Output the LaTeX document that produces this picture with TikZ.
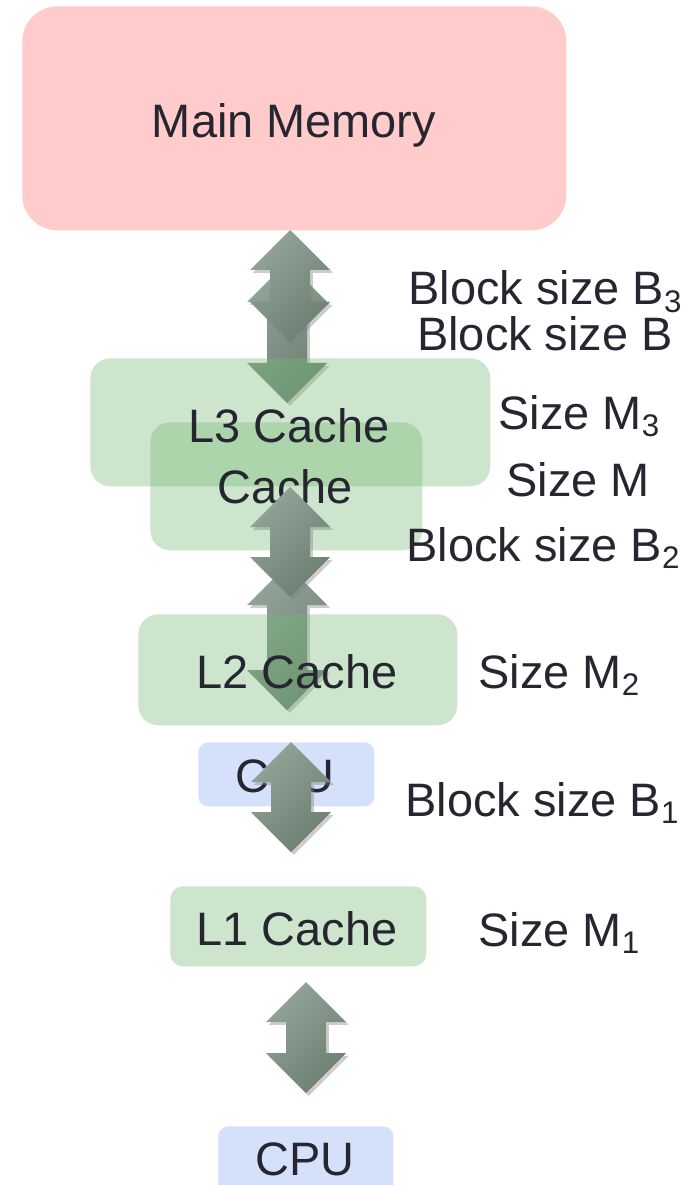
\documentclass[tikz,border=0pt]{standalone}
\usepackage{fontspec}
\setmainfont{Liberation Sans}
\usetikzlibrary{calc,shadows}
\definecolor{rosa}{RGB}{255,203,203}
\definecolor{verde}{RGB}{120,186,120}
\definecolor{azul}{RGB}{213,224,250}
\definecolor{grisclaro}{RGB}{146,164,151}
\definecolor{grisoscuro}{RGB}{108,128,114}
\definecolor{texto}{RGB}{38,38,48}
\tikzset{
  caja/.style={rectangle, anchor=north west, inner sep=0pt, rounded corners=0.4cm},
  cajaverde/.style={caja, fill=verde, fill opacity=0.38},
  etiqueta/.style={anchor=base, inner sep=0pt, text=texto, font=\fontsize{26.7}{30}\selectfont},
  flechadoble/.style={left color=grisclaro, right color=grisoscuro, shading angle=45,
    drop shadow={shadow xshift=1.6pt, shadow yshift=-1.6pt, opacity=0.4}}
}
\newcommand{\lsub}[1]{\raisebox{-0.16em}{\fontsize{17.8}{18}\selectfont #1}}
% flecha doble: nombre, x, punta de arriba, punta de abajo
\newcommand{\flecha}[4]{%
  \coordinate (#1a) at (#2,#3);
  \coordinate (#1b) at (#2,#4);
  \path[flechadoble] (#1a) -- ++(40,40) -- ++(-20,0) -- ($(#1b)+(20,-40)$) -- ++(20,0)
    -- (#1b) -- ++(-40,-40) -- ++(20,0) -- ($(#1a)+(-20,40)$) -- ++(-20,0) -- cycle;
}
\begin{document}
\begin{tikzpicture}[x=0.02cm,y=-0.02cm]
\useasboundingbox (0,0) rectangle (689,1185);
\clip (0,0) rectangle (689,1185);

% Flechas de fondo
\flecha{mtres}{287}{262}{403}
\flecha{mdos}{287}{565}{710}

% Cajas
\node[caja, fill=rosa, rounded corners=0.7cm, minimum width=10.88cm, minimum height=4.48cm] (mem) at (22,6) {};
\node[cajaverde, minimum width=8cm, minimum height=2.56cm] (l3) at (90,358) {};
\node[cajaverde, minimum width=5.44cm, minimum height=2.56cm] (cache) at (150,422) {};
\node[cajaverde, minimum width=6.38cm, minimum height=2.22cm] (l2) at (138,614) {};
\node[caja, fill=azul, rounded corners=0.2cm, minimum width=3.52cm, minimum height=1.28cm] (cpuuno) at (198,742) {};
\node[cajaverde, rounded corners=0.25cm, minimum width=5.12cm, minimum height=1.6cm] (l1) at (170,886) {};
\node[caja, fill=azul, rounded corners=0.2cm, minimum width=3.5cm, minimum height=1.4cm] (cpudos) at (218,1126) {};

% Textos de las cajas
\node[etiqueta] (memtxt) at (294,138) {Main Memory};
\node[etiqueta] (l3txt) at (289,442) {L3 Cache};
\node[etiqueta] (cachetxt) at (285,503) {Cache};
\node[etiqueta] (l2txt) at (297,688) {L2 Cache};
\node[etiqueta] (cpuunotxt) at (285,792) {CPU};
\node[etiqueta] (l1txt) at (297,945) {L1 Cache};
\node[etiqueta] (cpudostxt) at (305,1175) {CPU};

% Etiquetas
\node[etiqueta] (btres) at (545,305) {Block size B\lsub{3}};
\node[etiqueta] (bb) at (545,351) {Block size B};
\node[etiqueta] (mtresl) at (579,429) {Size M\lsub{3}};
\node[etiqueta] (mm) at (578,496) {Size M};
\node[etiqueta] (bdos) at (543,561) {Block size B\lsub{2}};
\node[etiqueta] (mdosl) at (559,688) {Size M\lsub{2}};
\node[etiqueta] (buno) at (542,816) {Block size B\lsub{1}};
\node[etiqueta] (munol) at (559,946) {Size M\lsub{1}};

% Flechas
\flecha{fmem}{290}{230}{342}
\flecha{fcache}{290}{487}{597}
\flecha{fcpu}{291}{742}{852}
\flecha{fl1}{306}{982}{1093}
\end{tikzpicture}
\end{document}
